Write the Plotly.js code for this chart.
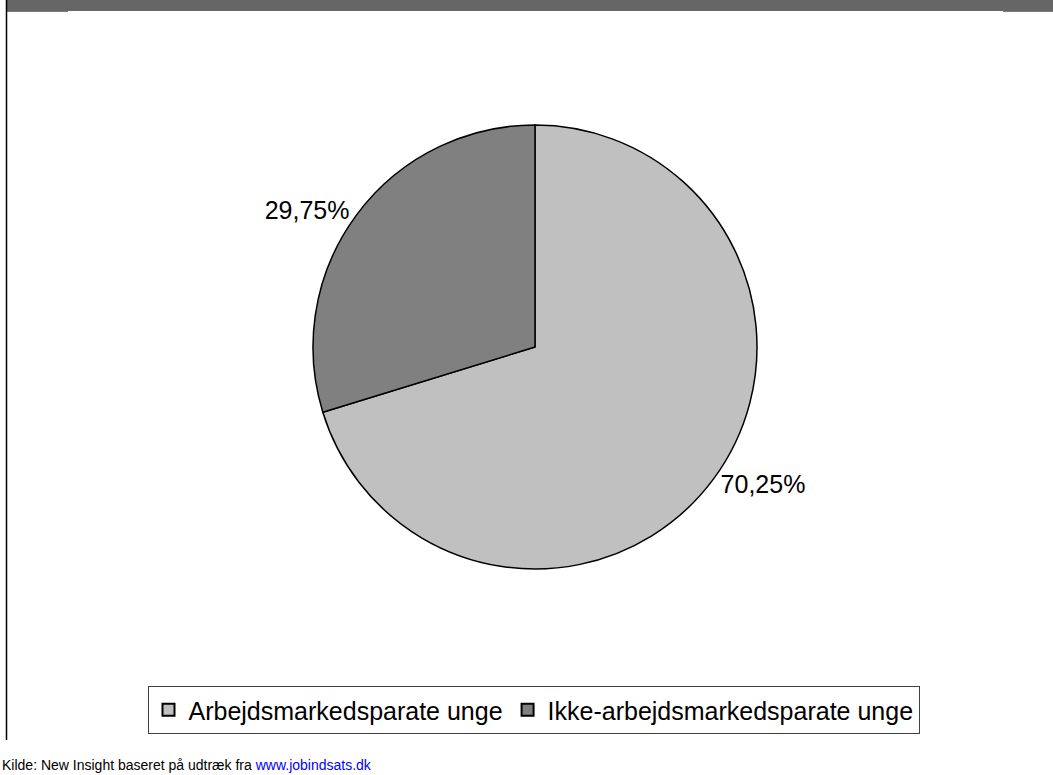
<!DOCTYPE html>
<html>
<head>
<meta charset="utf-8">
<script src="https://cdn.plot.ly/plotly-3.0.1.min.js"></script>
<style>html,body{margin:0;padding:0;background:#fff;}#chart{width:1053px;height:775px;}</style>
</head>
<body>
<div id="chart"></div>
<script>
const categories = ["Arbejdsmarkedsparate unge", "Ikke-arbejdsmarkedsparate unge"];
const values = [70.25, 29.75];
const colors = ["#c0c0c0", "#808080"];
const sourceText = 'Kilde: New Insight baseret på udtræk fra <span style="color:#0000ff">www.jobindsats.dk</span>';

const W = 1053, H = 775;
const FONT = "Liberation Sans, Arial, sans-serif";
const trace = {
  type: "pie",
  labels: categories,
  values: values,
  sort: false,
  direction: "clockwise",
  rotation: 0,
  marker: {colors: colors, line: {color: "#000000", width: 1.5}},
  textinfo: "percent",
  texttemplate: "%{percent:.2%}",
  textposition: "outside",
  outsidetextfont: {family: FONT, size: 25, color: "#000"},
  hoverinfo: "label+percent",
  domain: {x: [313 / W, 757 / W], y: [1 - 569 / H, 1 - 125 / H]},
  automargin: false
};

const layout = {
  width: W, height: H,
  margin: {l: 0, r: 0, t: 0, b: 0},
  paper_bgcolor: "#ffffff",
  separators: ",.",
  font: {family: FONT, color: "#000"},
  showlegend: true,
  legend: {
    orientation: "h",
    x: 533.5 / W, xanchor: "center",
    y: 1 - 686 / H, yanchor: "top",
    bordercolor: "#404040", borderwidth: 1,
    bgcolor: "#ffffff",
    font: {size: 25, family: FONT, color: "#000"},
    itemsizing: "constant"
  },
  shapes: [
    {type: "rect", xref: "paper", yref: "paper", x0: 7 / W, x1: 1, y0: 1 - 11 / H, y1: 1, fillcolor: "#666666", line: {width: 0}, layer: "below"},
    {type: "rect", xref: "paper", yref: "paper", x0: 7 / W, x1: 68 / W, y0: 1 - 12 / H, y1: 1 - 11 / H, fillcolor: "#7a7a7a", line: {width: 0}, layer: "below"},
    {type: "rect", xref: "paper", yref: "paper", x0: 1003 / W, x1: 1, y0: 1 - 12 / H, y1: 1 - 11 / H, fillcolor: "#7a7a7a", line: {width: 0}, layer: "below"},
    {type: "line", xref: "paper", yref: "paper", x0: 6.5 / W, x1: 6.5 / W, y0: 1 - 740 / H, y1: 1, line: {color: "#000000", width: 1.5}}
  ],
  annotations: [
    {xref: "paper", yref: "paper", x: 0, xanchor: "left", y: 1 - 775 / H, yanchor: "bottom", showarrow: false,
     text: sourceText, font: {size: 14, family: FONT, color: "#000"}}
  ]
};

Plotly.newPlot("chart", [trace], layout, {displayModeBar: false, staticPlot: true});
</script>
</body>
</html>
